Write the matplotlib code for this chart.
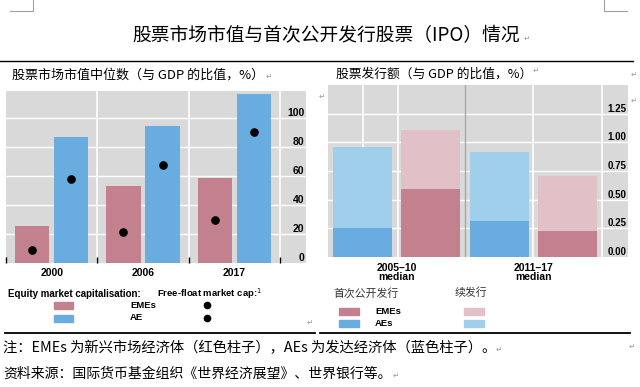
import matplotlib
matplotlib.use("Agg")
import matplotlib.pyplot as plt
import matplotlib.transforms as mtransforms
from matplotlib.patches import Rectangle
from matplotlib.lines import Line2D

# left panel: median equity market capitalisation, % of GDP
years = ['2000', '2006', '2017']
eme_cap = [25.7, 53.0, 58.6]
ae_cap = [86.9, 95.0, 116.8]
eme_free = [9.2, 21.2, 29.9]
ae_free = [58.4, 68.0, 90.3]
cap_ticks = [0, 20, 40, 60, 80, 100]

# right panel: equity issuance, % of GDP (total = IPO + follow-on)
periods = ['2005\u201310\nmedian', '2011\u201317\nmedian']
ae_total = [0.963, 0.92]
ae_ipo = [0.25, 0.31]
eme_total = [1.11, 0.71]
eme_ipo = [0.59, 0.225]
iss_ticks = [0.0, 0.25, 0.50, 0.75, 1.00, 1.25]

PINK = '#c3808e'
BLUE = '#69ace0'
LPINK = '#e1c1c7'
LBLUE = '#a0cfec'
BG = '#d9d9d9'

W, H = 640, 387
CJK = ['Noto Sans CJK SC', 'DejaVu Sans']
LAT = ['Liberation Sans', 'DejaVu Sans']
plt.rcParams['font.family'] = CJK


def fx(x):
    return x / W


def fy(y):
    return 1 - y / H


fig = plt.figure(figsize=(6.4, 3.87), dpi=100)

# ---------- left panel ----------
ax1 = fig.add_axes([fx(6), fy(263), 300 / W, 172 / H])
ax1.set_facecolor(BG)
xs = range(len(years))
ax1.bar([x - 0.214 for x in xs], eme_cap, width=0.374, color=PINK, zorder=2)
ax1.bar([x + 0.214 for x in xs], ae_cap, width=0.374, color=BLUE, zorder=2)
ax1.plot([x - 0.214 for x in xs], eme_free, 'o', color='black', ms=5.2, zorder=3)
ax1.plot([x + 0.214 for x in xs], ae_free, 'o', color='black', ms=5.2, zorder=3)
for v in cap_ticks[1:]:
    ax1.axhline(v, color='white', lw=1, zorder=1)
for v in [0.5, 1.5, 2.5]:
    ax1.axvline(v, color='white', lw=1.2, zorder=1)
ax1.set_xlim(-0.5, 2.785)
ax1.set_ylim(0, 119)
ax1.set_xticks(list(xs), years)
ax1.set_xticks([-0.5, 0.5, 1.5, 2.5], minor=True)
ax1.tick_params(axis='x', which='major', length=0, pad=3.5)
ax1.tick_params(axis='x', which='minor', direction='in', length=4.5, width=1, color='black')
ax1.yaxis.tick_right()
ax1.set_yticks(cap_ticks, [str(v) for v in cap_ticks])
ax1.tick_params(axis='y', length=0, pad=0)

# ---------- right panel ----------
ax2 = fig.add_axes([fx(328), fy(257), 300 / W, 172 / H])
ax2.set_facecolor(BG)
ps = range(len(periods))
ax2.bar([p - 0.25 for p in ps], ae_total, width=0.43, color=LBLUE, zorder=2)
ax2.bar([p - 0.25 for p in ps], ae_ipo, width=0.43, color=BLUE, zorder=3)
ax2.bar([p + 0.25 for p in ps], eme_total, width=0.43, color=LPINK, zorder=2)
ax2.bar([p + 0.25 for p in ps], eme_ipo, width=0.43, color=PINK, zorder=3)
for v in iss_ticks[1:]:
    ax2.axhline(v, color='white', lw=1, zorder=1)
for v in [-0.245, 0.01, 1.0, 1.5]:
    ax2.axvline(v, color='white', lw=1.2, zorder=1)
ax2.axvline(0.5, color='#a6a6a6', lw=1, zorder=1)
ax2.set_xlim(-0.5, 1.69)
ax2.set_ylim(0, 1.5)
ax2.set_xticks(list(ps), periods, linespacing=0.95)
ax2.tick_params(axis='x', length=0, pad=4)
ax2.yaxis.tick_right()
ax2.set_yticks(iss_ticks, ['%.2f' % v for v in iss_ticks])
ax2.tick_params(axis='y', length=0, pad=0)

for ax, fs in ((ax1, 7.5), (ax2, 7)):
    for s in ax.spines.values():
        s.set_visible(False)
    for lab in ax.get_xticklabels():
        lab.set_family(LAT)
        lab.set_fontweight('bold')
        lab.set_fontsize(7.5)
    off = mtransforms.ScaledTranslation(-1 / 72, 4.3 / 72, fig.dpi_scale_trans)
    for lab in ax.get_yticklabels():
        lab.set_family(LAT)
        lab.set_fontweight('bold')
        lab.set_fontsize(fs)
        lab.set_ha('right')
        lab.set_transform(lab.get_transform() + off)

# ---------- titles and frame lines ----------
fig.text(fx(326), fy(36), '股票市场市值与首次公开发行股票（IPO）情况',
         ha='center', va='center', fontsize=13.5)
fig.text(fx(12), fy(75), '股票市场市值中位数（与 GDP 的比值，%）',
         va='center', fontsize=9.4)
fig.text(fx(336), fy(74), '股票发行额（与 GDP 的比值，%）',
         va='center', fontsize=9.2)

fig.add_artist(Line2D([0, fx(633)], [fy(61)] * 2, color='black', lw=1))
fig.add_artist(Line2D([fx(5), fx(315)], [fy(333)] * 2, color='black', lw=1.3))
fig.add_artist(Line2D([fx(320), fx(630)], [fy(333)] * 2, color='black', lw=1.3))
# page corner marks
fig.add_artist(Line2D([fx(10), fx(33), fx(33)], [fy(11), fy(11), fy(0)], color='#a0a0a0', lw=0.8))
fig.add_artist(Line2D([fx(604), fx(604), fx(627)], [fy(0), fy(11), fy(11)], color='#a0a0a0', lw=0.8))

# paragraph marks
for x, y in [(527, 38), (269, 76), (536, 70), (634, 74), (634, 100), (322, 96),
             (310, 322), (499, 349), (632, 346), (396, 375)]:
    fig.text(fx(x), fy(y), '\u21b5', fontsize=5.5, color='#9a9a9a',
             family=['DejaVu Sans'], ha='center', va='center')

# ---------- left legend ----------
fig.text(fx(8), fy(294), 'Equity market capitalisation:', fontsize=7,
         fontweight='bold', family=LAT, va='center')
fig.text(fx(157), fy(294), 'Free-float market cap:$^{1}$', fontsize=6.8,
         fontweight='bold', family=LAT, va='center')
for y, c, name in [(305, PINK, 'EMEs'), (318, BLUE, 'AE')]:
    fig.add_artist(Rectangle((fx(54), fy(y + 3.5)), 19 / W, 7 / H, color=c,
                             transform=fig.transFigure))
    fig.text(fx(130), fy(y), name, fontsize=6.8, fontweight='bold',
             family=LAT, va='center')
    fig.add_artist(Line2D([fx(207)], [fy(y)], marker='o', color='black', ms=4.5))

# ---------- right legend ----------
fig.text(fx(333), fy(293), '首次公开发行', fontsize=7.8, color='#333333', va='center')
fig.text(fx(455), fy(293), '续发行', fontsize=7.8, color='#333333', va='center')
for y, c1, c2, name in [(311, PINK, LPINK, 'EMEs'), (323.5, BLUE, LBLUE, 'AEs')]:
    fig.add_artist(Rectangle((fx(339), fy(y + 3.5)), 20 / W, 7 / H, color=c1,
                             transform=fig.transFigure))
    fig.add_artist(Rectangle((fx(464), fy(y + 3.5)), 20 / W, 7 / H, color=c2,
                             transform=fig.transFigure))
    fig.text(fx(375), fy(y), name, fontsize=6.8, fontweight='bold',
             family=LAT, va='center')

# ---------- notes ----------
fig.text(fx(3), fy(348), '注：EMEs 为新兴市场经济体（红色柱子），AEs 为发达经济体（蓝色柱子）。',
         fontsize=10.3, va='center')
fig.text(fx(3), fy(374), '资料来源：国际货币基金组织《世界经济展望》、世界银行等。',
         fontsize=10, va='center')

fig.savefig('out.png', dpi=100, facecolor='white')
